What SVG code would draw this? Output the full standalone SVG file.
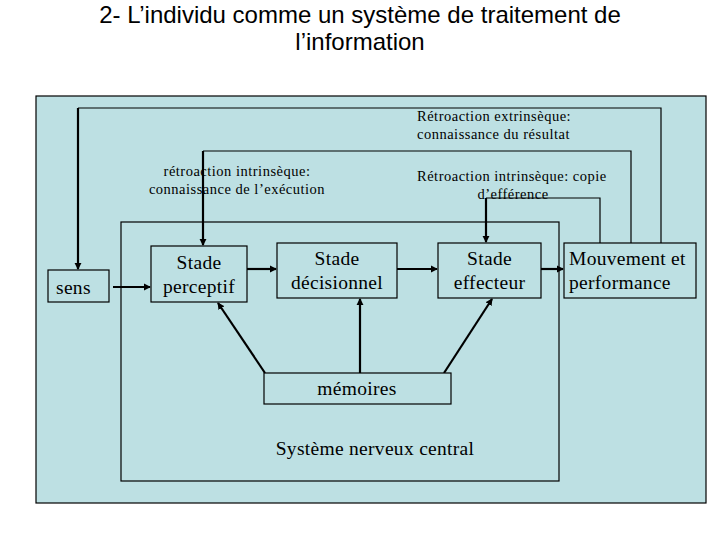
<svg xmlns="http://www.w3.org/2000/svg" width="720" height="540" viewBox="0 0 720 540">
<style>
.bg{fill:#bde0e3;stroke:#000;stroke-width:1.2}
.box{fill:#bde0e3;stroke:#000;stroke-width:1.2}
.ln{fill:none;stroke:#000;stroke-width:1.2}
.ar{fill:none;stroke:#000;stroke-width:2.2;marker-end:url(#ah)}
.t{font-family:"Liberation Serif","Times New Roman",serif;fill:#000}
.n{font-size:19.5px;letter-spacing:0.3px}
.s{font-size:14.5px;letter-spacing:0.5px}
.title{font-family:"Liberation Sans",Arial,sans-serif;font-size:24px;fill:#000}
</style>
<defs>
<marker id="ah" viewBox="0 0 8 8" refX="7" refY="4" markerWidth="3.2" markerHeight="3.2" orient="auto" markerUnits="strokeWidth">
<path d="M0,0 L8,4 L0,8 Z" fill="#000"/>
</marker>
</defs>
<rect width="720" height="540" fill="#fff"/>
<g id="title">
<text class="title" x="360" y="23" text-anchor="middle">2- L’individu comme un système de traitement de</text>
<text class="title" x="360" y="50" text-anchor="middle">l’information</text>
</g>
<g id="outer"><rect class="bg" x="36" y="96" width="670" height="407"/></g>
<g id="snc">
<rect class="box" x="121" y="222" width="438" height="259"/>
<text class="t n" x="375" y="455" text-anchor="middle">Système nerveux central</text>
</g>
<g id="labels">
<text class="t s" x="417" y="121">Rétroaction extrinsèque:</text>
<text class="t s" x="417" y="139">connaissance du résultat</text>
<text class="t s" x="237" y="176" text-anchor="middle">rétroaction intrinsèque:</text>
<text class="t s" x="237" y="194" text-anchor="middle">connaissance de l’exécution</text>
<text class="t s" x="417" y="181">Rétroaction intrinsèque: copie</text>
<text class="t s" x="513" y="199" text-anchor="middle">d’efférence</text>
</g>
<g id="connectors">
<polyline class="ln" points="661,243 661,108 78,108"/>
<path class="ar" d="M78,108 L78,269"/>
<polyline class="ln" points="631,243 631,151 203,151"/>
<path class="ar" d="M203,151 L203,245"/>
<polyline class="ln" points="600,243 600,198 486,198"/>
<path class="ar" d="M486,198 L486,242"/>
<path class="ar" d="M113,287 L150,287"/>
<path class="ar" d="M247,269 L276,269"/>
<path class="ar" d="M397,269 L437,269"/>
<path class="ar" d="M541,269 L563,269"/>
<path class="ar" d="M265,373 L218,303"/>
<path class="ar" d="M360,373 L360,299"/>
<path class="ar" d="M444,373 L492,299"/>
</g>
<g id="sens">
<rect class="box" x="48" y="270" width="61" height="32"/>
<text class="t n" x="56" y="294">sens</text>
</g>
<g id="perceptif">
<rect class="box" x="151" y="246" width="96" height="56"/>
<text class="t n" x="199" y="269" text-anchor="middle">Stade</text>
<text class="t n" x="199" y="293" text-anchor="middle">perceptif</text>
</g>
<g id="decisionnel">
<rect class="box" x="277" y="243" width="120" height="55"/>
<text class="t n" x="337" y="265" text-anchor="middle">Stade</text>
<text class="t n" x="337" y="289" text-anchor="middle">décisionnel</text>
</g>
<g id="effecteur">
<rect class="box" x="438" y="243" width="103" height="55"/>
<text class="t n" x="489.5" y="265" text-anchor="middle">Stade</text>
<text class="t n" x="489.5" y="289" text-anchor="middle">effecteur</text>
</g>
<g id="mouvement">
<rect class="box" x="564" y="243" width="132" height="55"/>
<text class="t n" x="569" y="265">Mouvement et</text>
<text class="t n" x="569" y="289">performance</text>
</g>
<g id="memoires">
<rect class="box" x="264" y="373" width="187" height="31"/>
<text class="t n" x="357" y="395" text-anchor="middle">mémoires</text>
</g>
</svg>
